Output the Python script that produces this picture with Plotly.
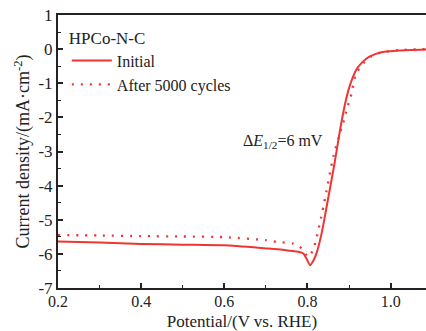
import plotly.graph_objects as go

# Data
initial_v = [0.2, 0.3, 0.4, 0.5, 0.6, 0.7, 0.74, 0.758, 0.778, 0.79, 0.798, 0.806, 0.814, 0.822,
             0.834, 0.846, 0.865, 0.877, 0.889, 0.901, 0.917, 0.932, 0.949, 0.978, 1.022, 1.085]
initial_j = [-5.64, -5.67, -5.71, -5.73, -5.75, -5.84, -5.88, -5.91, -5.94, -5.99, -6.15, -6.33, -6.2, -5.97,
             -5.40, -4.62, -3.35, -2.46, -1.68, -1.10, -0.61, -0.38, -0.22, -0.09, -0.04, -0.01]

after_v = [0.2, 0.3, 0.4, 0.5, 0.6, 0.7, 0.726, 0.766, 0.786, 0.802, 0.814, 0.822, 0.834, 0.840,
           0.863, 0.88, 0.888, 0.895, 0.904, 0.917, 0.935, 0.953, 0.978, 1.02, 1.085]
after_j = [-5.45, -5.46, -5.48, -5.49, -5.51, -5.60, -5.65, -5.70, -5.84, -6.09, -5.87, -5.52, -4.86, -4.51,
           -3.1, -2.39, -2.07, -1.73, -1.39, -0.72, -0.41, -0.22, -0.09, -0.03, 0.0]

x_ticks = [0.2, 0.4, 0.6, 0.8, 1.0]
x_labels = ["0.2", "0.4", "0.6", "0.8", "1.0"]
y_ticks = [1, 0, -1, -2, -3, -4, -5, -6, -7]
y_labels = ["1", "0", "-1", "-2", "-3", "-4", "-5", "-6", "-7"]

red = "rgb(240,52,52)"
ink = "#222"
font = "Liberation Serif, Times New Roman, serif"

fig = go.Figure()
fig.add_trace(go.Scatter(x=initial_v, y=initial_j, mode="lines", name="Initial",
                         line=dict(color=red, width=2, shape="spline", smoothing=0.6)))
fig.add_trace(go.Scatter(x=after_v, y=after_j, mode="lines", name="After 5000 cycles",
                         line=dict(color=red, width=2.3, dash="2px,7px", shape="spline", smoothing=0.6)))

fig.add_annotation(x=0.64, y=-2.72, xref="x", yref="y", xanchor="left", yanchor="middle",
                   text="Δ<i>E</i><sub>1/2</sub>=6 mV", showarrow=False,
                   font=dict(family=font, size=16, color=ink))

fig.update_layout(
    width=426, height=331,
    margin=dict(l=58, r=0, t=15, b=43, autoexpand=False),
    paper_bgcolor="white", plot_bgcolor="white",
    font=dict(family=font, size=16, color=ink),
    showlegend=True,
    legend=dict(x=0.024, y=0.976, xanchor="left", yanchor="top",
                bgcolor="rgba(0,0,0,0)", font=dict(family=font, size=16, color=ink),
                title=dict(text="HPCo-N-C", font=dict(family=font, size=17, color=ink)),
                tracegroupgap=0, itemwidth=40),
    xaxis=dict(range=[0.2, 1.085], tickvals=x_ticks, ticktext=x_labels,
               ticks="inside", ticklen=5, tickwidth=1.5, tickcolor=ink,
               minor=dict(dtick=0.1, tick0=0.2, ticks="inside", ticklen=3, tickwidth=1.2, tickcolor=ink),
               showline=True, linecolor=ink, linewidth=2, mirror=True,
               showgrid=False, zeroline=False, automargin=False, ticklabelstandoff=-2,
               tickfont=dict(family=font, size=16, color=ink),
               title=dict(text="Potential/(V vs. RHE)", font=dict(family=font, size=17, color=ink))),
    yaxis=dict(range=[-7, 1], tickvals=y_ticks, ticktext=y_labels,
               ticks="inside", ticklen=5, tickwidth=1.5, tickcolor=ink,
               minor=dict(dtick=0.5, tick0=0, ticks="inside", ticklen=3, tickwidth=1.2, tickcolor=ink),
               showline=True, linecolor=ink, linewidth=2, mirror=False,
               showgrid=False, zeroline=False, automargin=True,
               tickfont=dict(family=font, size=17, color=ink),
               title=dict(text="Current density/(mA·cm<sup>-2</sup>)", font=dict(family=font, size=18, color=ink),
                          standoff=4)),
)

fig.write_html("out.html", config={"displayModeBar": False},
               post_script="document.body.style.margin='0';document.body.style.padding='0';document.body.style.overflow='hidden';")
